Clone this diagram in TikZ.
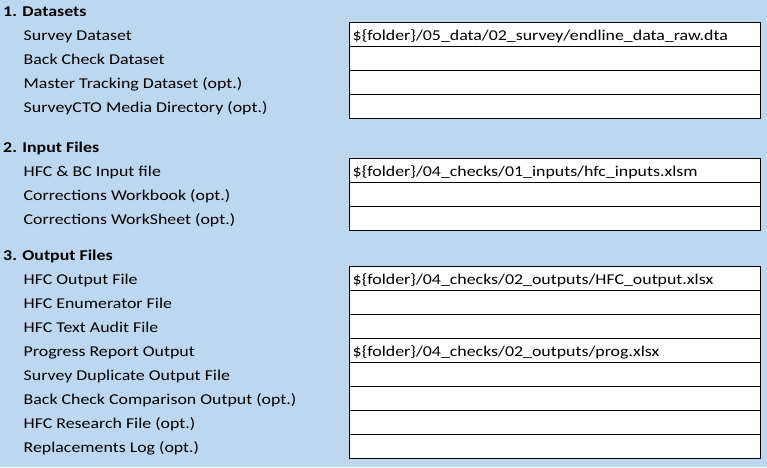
\documentclass[tikz,border=0pt]{standalone}
\usepackage{fontspec}
\setmainfont{Carlito}[FakeStretch=1.19]
\definecolor{fondbleu}{RGB}{189,215,238}
\begin{document}
\begin{tikzpicture}[x=1pt,y=-1pt]
            \tikzstyle{titre}=[anchor=base west,inner sep=0pt,font=\fontsize{15}{18}\selectfont\bfseries]
            \tikzstyle{libelle}=[anchor=base west,inner sep=0pt,font=\fontsize{15}{18}\selectfont]
            \tikzstyle{chemin}=[anchor=base west,inner sep=0pt,font=\fontsize{15}{18}\selectfont]
            \tikzstyle{case}=[draw,fill=white,line width=1pt,minimum width=411pt,minimum height=24pt,inner sep=0pt]
            \fill[fondbleu] (0,0) rectangle (767,467);
            \useasboundingbox (0,0) rectangle (767,467);
            % 1. Datasets
            \node[titre] (t1) at (3,16) {1. Datasets};
            \node[case] (c1) at (555,34.7) {};
            \node[case] (c2) at (555,58.7) {};
            \node[case] (c3) at (555,82.7) {};
            \node[case] (c4) at (555,106.7) {};
            \node[libelle] (l1) at (23.5,40.7) {Survey Dataset};
            \node[libelle] (l2) at (23.5,64.7) {Back Check Dataset};
            \node[libelle] (l3) at (23.5,88.7) {Master Tracking Dataset (opt.)};
            \node[libelle] (l4) at (23.5,112.7) {SurveyCTO Media Directory (opt.)};
            \node[chemin] (p1) at (352.5,40.7) {\$\{folder\}/05\_data/02\_survey/endline\_data\_raw.dta};
            % 2. Input Files
            \node[titre] (t2) at (3,152.7) {2. Input Files};
            \node[case] (c5) at (555,170.7) {};
            \node[case] (c6) at (555,194.7) {};
            \node[case] (c7) at (555,218.7) {};
            \node[libelle] (l5) at (23.5,176.7) {HFC \& BC Input file};
            \node[libelle] (l6) at (23.5,200.7) {Corrections Workbook (opt.)};
            \node[libelle] (l7) at (23.5,224.7) {Corrections WorkSheet (opt.)};
            \node[chemin] (p5) at (352.5,176.7) {\$\{folder\}/04\_checks/01\_inputs/hfc\_inputs.xlsm};
            % 3. Output Files
            \node[titre] (t3) at (3,260.7) {3. Output Files};
            \node[case] (c8) at (555,278.7) {};
            \node[case] (c9) at (555,302.7) {};
            \node[case] (c10) at (555,326.7) {};
            \node[case] (c11) at (555,350.7) {};
            \node[case] (c12) at (555,374.7) {};
            \node[case] (c13) at (555,398.7) {};
            \node[case] (c14) at (555,422.7) {};
            \node[case] (c15) at (555,446.7) {};
            \node[libelle] (l8) at (23.5,284.7) {HFC Output File};
            \node[libelle] (l9) at (23.5,308.7) {HFC Enumerator File};
            \node[libelle] (l10) at (23.5,332.7) {HFC Text Audit File};
            \node[libelle] (l11) at (23.5,356.7) {Progress Report Output};
            \node[libelle] (l12) at (23.5,380.7) {Survey Duplicate Output File};
            \node[libelle] (l13) at (23.5,404.7) {Back Check Comparison Output (opt.)};
            \node[libelle] (l14) at (23.5,428.7) {HFC Research File (opt.)};
            \node[libelle] (l15) at (23.5,452.7) {Replacements Log (opt.)};
            \node[chemin] (p8) at (352.5,284.7) {\$\{folder\}/04\_checks/02\_outputs/HFC\_output.xlsx};
            \node[chemin] (p11) at (352.5,356.7) {\$\{folder\}/04\_checks/02\_outputs/prog.xlsx};
        \end{tikzpicture}
\end{document}
